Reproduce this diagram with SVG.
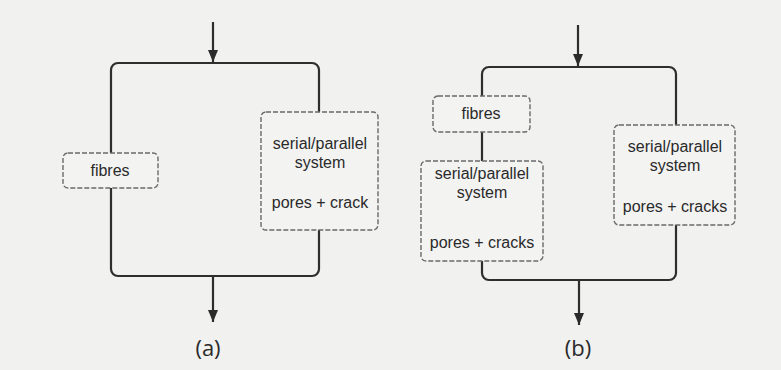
<svg xmlns="http://www.w3.org/2000/svg" width="781" height="370" viewBox="0 0 781 370">
<defs>
<marker id="arr" markerWidth="12" markerHeight="10" refX="12" refY="5" orient="auto" markerUnits="userSpaceOnUse" viewBox="0 0 12 10">
<path d="M0,0 L12,5 L0,10 Z" fill="#2b2b2b"/>
</marker>
</defs>
<style>
.bg{fill:#f1f1f0}
.wire{fill:none;stroke:#2e2e2e;stroke-width:2.2}
.box{fill:#f3f3f2;stroke:#6a6a6a;stroke-width:1.4;stroke-dasharray:5 2}
.t{font-family:"Liberation Sans",Arial,sans-serif;font-size:16px;fill:#2a2a2a;text-anchor:middle}
.lab{font-family:"Open Sans","Liberation Sans",sans-serif;font-size:22px;fill:#2a2a2a;text-anchor:middle}
</style>
<rect class="bg" x="0" y="0" width="781" height="370"/>
<g id="connectors">
<line class="wire" x1="213" y1="22" x2="213" y2="62" marker-end="url(#arr)"/>
<rect class="wire" x="111" y="63" width="208" height="213" rx="7"/>
<line class="wire" x1="213" y1="276" x2="213" y2="322" marker-end="url(#arr)"/>
<line class="wire" x1="578" y1="25" x2="578" y2="66" marker-end="url(#arr)"/>
<rect class="wire" x="482" y="67" width="194" height="213" rx="7"/>
<line class="wire" x1="579" y1="280" x2="579" y2="325" marker-end="url(#arr)"/>
</g>
<g id="a-fibres">
<rect class="box" x="63" y="153" width="95" height="35" rx="5"/>
<text class="t" x="110" y="176">fibres</text>
</g>
<g id="a-system">
<rect class="box" x="261" y="112" width="117" height="118" rx="5"/>
<text class="t" x="320" y="149">serial/parallel</text>
<text class="t" x="320" y="168">system</text>
<text class="t" x="320" y="208">pores + crack</text>
</g>
<g id="b-fibres">
<rect class="box" x="433" y="96" width="97" height="36" rx="5"/>
<text class="t" x="481" y="119">fibres</text>
</g>
<g id="b-system-left">
<rect class="box" x="421" y="161" width="122" height="100" rx="5"/>
<text class="t" x="482" y="179">serial/parallel</text>
<text class="t" x="482" y="198">system</text>
<text class="t" x="482" y="248">pores + cracks</text>
</g>
<g id="b-system-right">
<rect class="box" x="614" y="125" width="121" height="100" rx="5"/>
<text class="t" x="675" y="152">serial/parallel</text>
<text class="t" x="675" y="171">system</text>
<text class="t" x="675" y="212">pores + cracks</text>
</g>
<g id="labels">
<text class="lab" x="208" y="356">(a)</text>
<text class="lab" x="578" y="356">(b)</text>
</g>
</svg>
